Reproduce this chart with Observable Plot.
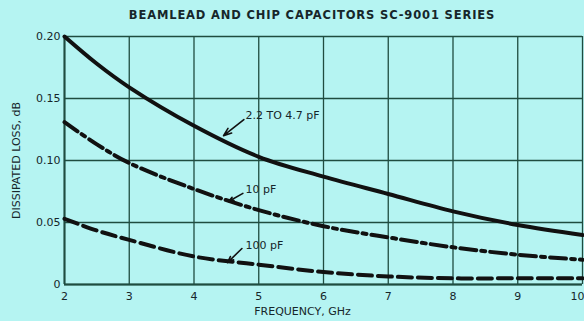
<!DOCTYPE html>
<html>
<head>
<meta charset="utf-8">
<script src="https://cdn.jsdelivr.net/npm/d3@7"></script>
<script src="https://cdn.jsdelivr.net/npm/@observablehq/plot@0.6"></script>
<style>
  html, body { margin: 0; padding: 0; background: #b5f4f2; width: 584px; height: 321px; overflow: hidden; }
  #title { box-sizing: border-box; width: 584px; height: 26px; padding-left: 40px; padding-top: 5px;
    text-align: center; font: 600 11.5px "DejaVu Sans", sans-serif; letter-spacing: 0.85px; color: #16262a; line-height: 20px; }
  svg { display: block; }
</style>
</head>
<body>
<div id="title">BEAMLEAD AND CHIP CAPACITORS SC-9001 SERIES</div>
<div id="chart"></div>
<script>
const freq = [2, 2.5, 3, 4, 5, 6, 7, 8, 9, 10];
const loss22to47 = [0.200, 0.178, 0.159, 0.128, 0.103, 0.087, 0.073, 0.059, 0.048, 0.040];
const loss10 = [0.131, 0.113, 0.098, 0.077, 0.060, 0.047, 0.038, 0.030, 0.024, 0.020];
const loss100 = [0.053, 0.0435, 0.036, 0.0226, 0.016, 0.010, 0.0065, 0.005, 0.005, 0.005];

const xTicks = [2, 3, 4, 5, 6, 7, 8, 9, 10];
const yTicks = [0, 0.05, 0.10, 0.15, 0.20];

const seriesNames = ["2.2 TO 4.7 pF", "10 pF", "100 pF"];
const labelX = [4.795, 4.795, 4.795];
const labelY = [0.136, 0.0766, 0.0315];
const arrowFromX = [4.77, 4.755, 4.74];
const arrowFromY = [0.133, 0.0735, 0.0290];
const arrowToX = [4.456, 4.533, 4.517];
const arrowToY = [0.120, 0.0669, 0.0177];

const toRows = (vals, name) => freq.map((f, i) => ({f, v: vals[i], name}));
const s1 = toRows(loss22to47, seriesNames[0]);
const s2 = toRows(loss10, seriesNames[1]);
const s3 = toRows(loss100, seriesNames[2]);
const labels = seriesNames.map((name, i) => ({name, x: labelX[i], y: labelY[i],
  x1: arrowFromX[i], y1: arrowFromY[i], x2: arrowToX[i], y2: arrowToY[i]}));

const ink = "#111";
const grid = "#1f4c40";
const font = "'DejaVu Sans', sans-serif";
const lastTick = xTicks[xTicks.length - 1];

const chart = Plot.plot({
  width: 584,
  height: 295,
  marginLeft: 64,
  marginRight: 2,
  marginTop: 10,
  marginBottom: 37,
  x: {domain: [2, 10]},
  y: {domain: [0, 0.2]},
  style: {background: "transparent", color: "#16262a", fontSize: "11px", fontFamily: font},
  marks: [
    Plot.gridX(xTicks, {stroke: grid, strokeOpacity: 1, strokeWidth: 1.3}),
    Plot.gridY(yTicks, {stroke: grid, strokeOpacity: 1, strokeWidth: 1.3}),
    Plot.ruleX([2], {stroke: grid, strokeWidth: 2}),
    Plot.ruleY([0], {stroke: grid, strokeWidth: 2}),
    Plot.axisX(xTicks.slice(0, -1), {tickSize: 0, tickPadding: 8, label: null, fontSize: 11}),
    Plot.axisX([lastTick], {tickSize: 0, tickPadding: 8, label: null, fontSize: 11, textAnchor: "end", dx: 2}),
    Plot.axisY(yTicks, {tickSize: 0, tickPadding: 4, tickFormat: d => d === 0 ? "0" : d.toFixed(2),
      label: "DISSIPATED LOSS, dB", labelAnchor: "center", labelArrow: "none", labelOffset: 52, fontSize: 11}),
    Plot.text(["FREQUENCY, GHz"], {frameAnchor: "bottom", lineAnchor: "middle", dy: 27, dx: -21, fontSize: 11, letterSpacing: 0.5}),
    Plot.line(s1, {x: "f", y: "v", stroke: ink, strokeWidth: 4, curve: "catmull-rom"}),
    Plot.line(s2, {x: "f", y: "v", stroke: ink, strokeWidth: 4, curve: "catmull-rom", strokeDasharray: "16,5,4,5"}),
    Plot.line(s3, {x: "f", y: "v", stroke: ink, strokeWidth: 4, curve: "catmull-rom", strokeDasharray: "14,6"}),
    Plot.arrow(labels, {x1: "x1", y1: "y1", x2: "x2", y2: "y2", stroke: ink, strokeWidth: 1.6, headLength: 8, headAngle: 40}),
    Plot.text(labels, {x: "x", y: "y", text: "name", textAnchor: "start", fontSize: 11, fill: "#16262a"})
  ]
});
document.getElementById("chart").appendChild(chart);
</script>
</body>
</html>
